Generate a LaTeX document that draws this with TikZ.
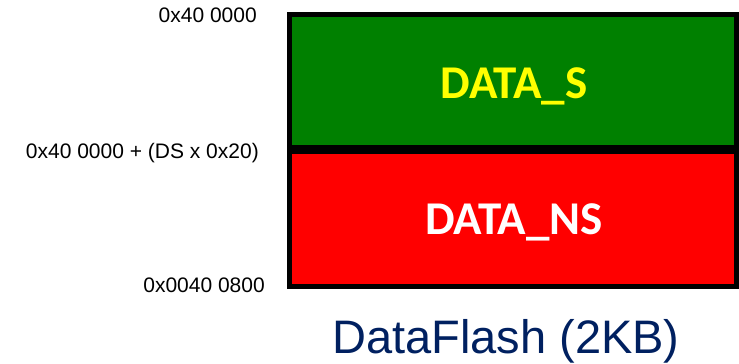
\documentclass[tikz,border=0pt]{standalone}
\usepackage{fontspec}
\setmainfont{Liberation Sans}
\newfontfamily\calib{Carlito}
\definecolor{dsgreen}{RGB}{0,128,0}
\definecolor{nsred}{RGB}{255,0,0}
\definecolor{dsyellow}{RGB}{255,255,0}
\definecolor{navy}{RGB}{0,32,96}
\begin{document}
\begin{tikzpicture}[x=1pt,y=-1pt,
  region/.style={draw=black,line width=5pt,inner sep=0pt,minimum width=447pt},
  addr/.style={inner sep=0pt,anchor=base east,font=\fontsize{21}{25}\selectfont},
  regtext/.style={inner sep=0pt,anchor=base,font=\calib\bfseries\fontsize{47}{52}\selectfont}]
\useasboundingbox (0,0) rectangle (739,364);
\node[region,fill=dsgreen,minimum height=133pt] (sbox) at (513,81) {};
\node[region,fill=nsred,minimum height=135pt] (nsbox) at (513,219) {};
\node[regtext,text=dsyellow] (stext) at (514,98) {DATA\_S};
\node[regtext,text=white] (nstext) at (514,234) {DATA\_NS};
\node[addr] (a1) at (257,23) {0x40 0000};
\node[addr] (a2) at (259,158) {0x40 0000 + (DS x 0x20)};
\node[addr] (a3) at (265,292) {0x0040 0800};
\node[inner sep=0pt,anchor=base,text=navy,font=\fontsize{47}{55}\selectfont] (title) at (506,353) {DataFlash (2KB)};
\end{tikzpicture}
\end{document}
